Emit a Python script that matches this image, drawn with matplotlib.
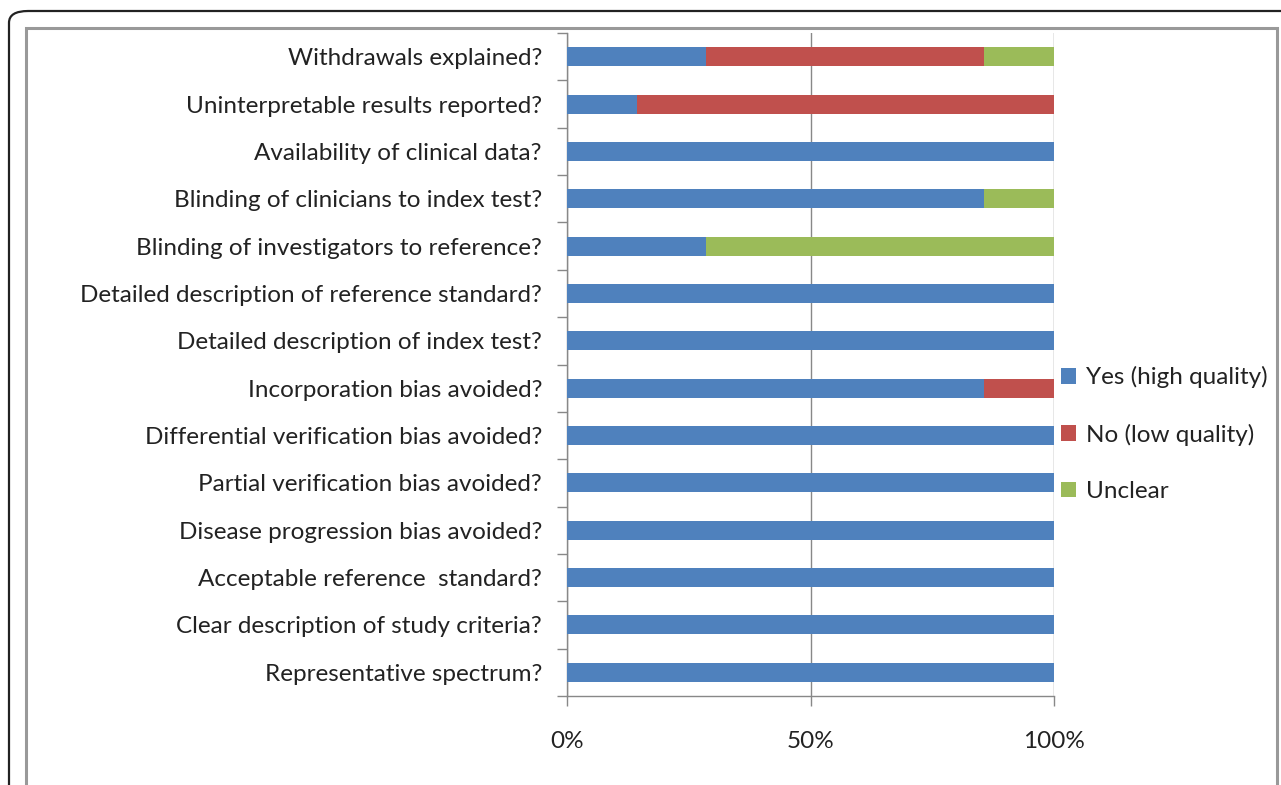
import matplotlib.pyplot as plt
from matplotlib.patches import FancyBboxPatch, Rectangle
import numpy as np

# Quality items (top to bottom as shown)
items = [
    "Withdrawals explained?",
    "Uninterpretable results reported?",
    "Availability of clinical data?",
    "Blinding of clinicians to index test?",
    "Blinding of investigators to reference?",
    "Detailed description of reference standard?",
    "Detailed description of index test?",
    "Incorporation bias avoided?",
    "Differential verification bias avoided?",
    "Partial verification bias avoided?",
    "Disease progression bias avoided?",
    "Acceptable reference  standard?",
    "Clear description of study criteria?",
    "Representative spectrum?",
]
# percentages
yes_vals = [28.6, 14.3, 100, 85.7, 28.6, 100, 100, 85.7, 100, 100, 100, 100, 100, 100]
no_vals = [57.1, 85.7, 0, 0, 0, 0, 0, 14.3, 0, 0, 0, 0, 0, 0]
unclear_vals = [14.3, 0, 0, 14.3, 71.4, 0, 0, 0, 0, 0, 0, 0, 0, 0]
series_names = ["Yes (high quality)", "No (low quality)", "Unclear"]
colors = ["#4F81BD", "#C0504D", "#9BBB59"]

FONT = "Lato"
FS = 17.5

fig = plt.figure(figsize=(12.81, 7.85), dpi=100)
fig.patch.set_facecolor("white")

# frame decorations
outer = FancyBboxPatch((9 / 1281, -0.05), 1.1, 1 - 11 / 785 + 0.05,
                       boxstyle="round,pad=0,rounding_size=0.015",
                       transform=fig.transFigure, facecolor="none",
                       edgecolor="#222222", linewidth=1.6)
fig.patches.append(outer)
inner = Rectangle((26 / 1281, -0.05), (1277 - 26) / 1281, 1 - 28 / 785 + 0.05,
                  transform=fig.transFigure, facecolor="none",
                  edgecolor="#999999", linewidth=2.2)
fig.patches.append(inner)

ax = fig.add_axes([567 / 1281, 1 - 696 / 785, (1054 - 567) / 1281, (696 - 33) / 785])

n = len(items)
y = np.arange(n)[::-1]
yes = np.array(yes_vals)
no = np.array(no_vals)
unc = np.array(unclear_vals)
ax.barh(y, yes, height=0.4, color=colors[0], label=series_names[0], zorder=3)
ax.barh(y, no, left=yes, height=0.4, color=colors[1], label=series_names[1], zorder=3)
ax.barh(y, unc, left=yes + no, height=0.4, color=colors[2], label=series_names[2], zorder=3)

ax.set_xlim(0, 100)
ax.set_ylim(-0.5, n - 0.5)
ax.set_xticks([0, 50, 100])
ax.set_xticklabels(["0%", "50%", "100%"], fontsize=FS, family=FONT, color="#222222")
ax.set_yticks(y)
ax.set_yticklabels(items, fontsize=FS, family=FONT, color="#222222")
ax.set_yticks(np.arange(n + 1) - 0.5, minor=True)
ax.tick_params(axis="y", which="major", length=0, pad=18)
ax.tick_params(axis="y", which="minor", length=7, color="#888888", width=1)
ax.tick_params(axis="x", length=7, color="#888888", width=1, pad=18, direction="out")
ax.xaxis.grid(True, color="#888888", linewidth=1, zorder=0)

for s in ["top", "right"]:
    ax.spines[s].set_visible(False)
for s in ["left", "bottom"]:
    ax.spines[s].set_color("#888888")
    ax.spines[s].set_linewidth(1)

leg = ax.legend(loc="center left", bbox_to_anchor=(1.0, 0.395), frameon=False,
                prop={"family": FONT, "size": FS}, handlelength=0.6, handleheight=0.6,
                handletextpad=0.4, labelspacing=1.45, borderaxespad=0.0, borderpad=0.3)
for t in leg.get_texts():
    t.set_color("#222222")

fig.savefig("out.png", dpi=100, facecolor="white")
